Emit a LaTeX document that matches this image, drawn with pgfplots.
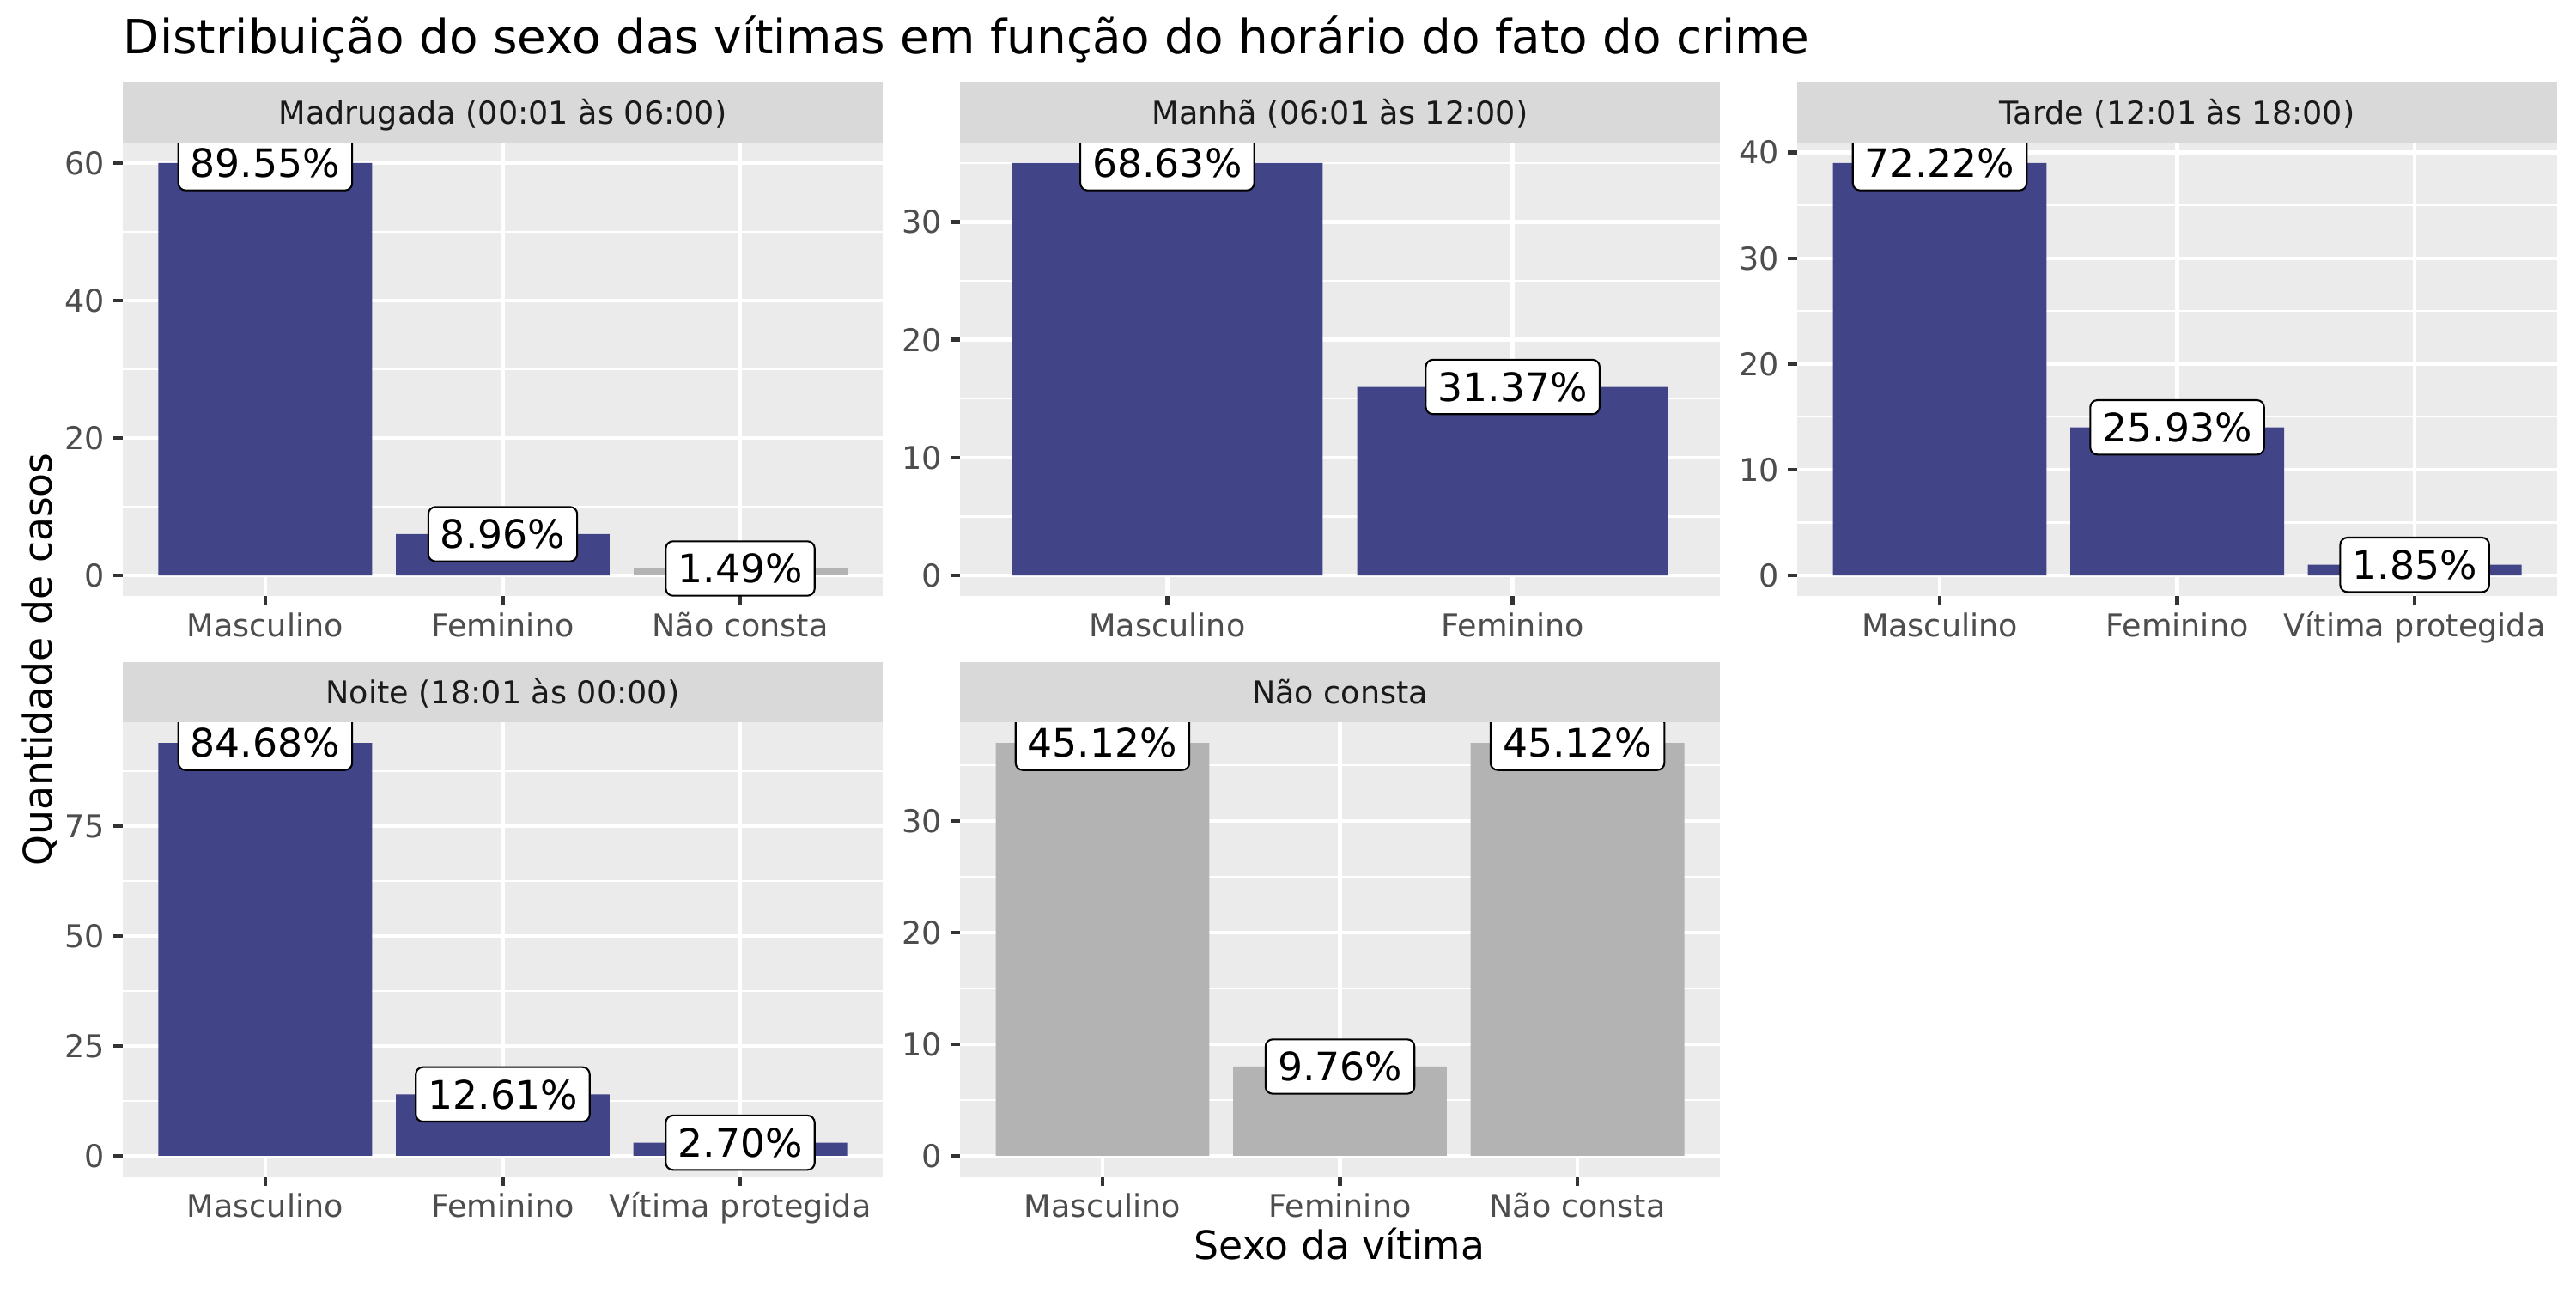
\documentclass[border=0pt]{standalone}
\usepackage{pgfplots}
\pgfplotsset{compat=1.18}
\usepackage{fontspec}
\setmainfont{DejaVu Sans}

\definecolor{navy}{HTML}{414487}
\definecolor{grayb}{HTML}{B3B3B3}
\definecolor{panelbg}{HTML}{EBEBEB}
\definecolor{stripbg}{HTML}{D9D9D9}
\definecolor{ticklab}{HTML}{4D4D4D}
\definecolor{tickc}{HTML}{333333}
\definecolor{striptext}{HTML}{1A1A1A}

\tikzset{
  lbl/.style={font=\fontsize{11}{13}\selectfont, text=black, fill=white, draw=black,
    line width=0.5bp, rounded corners=2bp, inner xsep=3.4bp, inner ysep=3.6bp,
    text height=8bp, text depth=0pt, anchor=center},
  strip/.style={font=\fontsize{8.8}{10}\selectfont, text=striptext, inner sep=0pt,
    text height=6.4bp, text depth=0pt, anchor=center}
}

\pgfplotsset{
  facet/.style={
    scale only axis, width=212.4bp, anchor=south west,
    axis background/.style={fill=panelbg},
    axis line style={draw=none},
    tick pos=left, tick align=outside,
    major tick length=2.64bp, minor tick length=0pt,
    tick style={draw=tickc, line width=1.07bp},
    xmajorgrids, ymajorgrids, yminorgrids,
    major grid style={draw=white, line width=1.07bp},
    minor grid style={draw=white, line width=0.53bp},
    enlargelimits=false,
    tick label style={font=\fontsize{8.8}{10}\selectfont, text=ticklab},
    /pgf/number format/assume math mode=true,
    yticklabel style={inner sep=0pt, xshift=-2.2bp},
    xticklabel style={inner sep=0pt, yshift=-2.2bp, text height=6.4bp, text depth=0pt},
  },
  navybar/.style={ybar, bar width=0.9, bar shift=0pt, fill=navy, draw=none},
  graybar/.style={ybar, bar width=0.9, bar shift=0pt, fill=grayb, draw=none},
  lblplot/.style={only marks, mark=*, mark size=0pt, mark options={draw=none, fill=none},
    nodes near coords, point meta=explicit symbolic,
    every node near coord/.append style={lbl}},
}

\begin{document}
\begin{tikzpicture}[x=1bp, y=1bp]
\useasboundingbox (0,0) rectangle (720,360);

% Madrugada
\begin{axis}[facet, at={(34.32bp,193.44bp)}, height=126.72bp,
  xmin=-0.6, xmax=2.6, xtick={0,1,2}, xticklabels={Masculino,Feminino,Não consta},
  ymin=-3, ymax=63, ytick={0,20,40,60}, minor ytick={10,30,50}]
\addplot[navybar] coordinates {(0,60) (1,6)};
\addplot[graybar] coordinates {(2,1)};
\addplot[lblplot] coordinates {(0,60) [89.55\%] (1,6) [8.96\%] (2,1) [1.49\%]};
\end{axis}

% Manha
\begin{axis}[facet, at={(268.32bp,193.44bp)}, height=126.72bp,
  xmin=-0.6, xmax=1.6, xtick={0,1}, xticklabels={Masculino,Feminino},
  ymin=-1.75, ymax=36.75, ytick={0,10,20,30}, minor ytick={5,15,25,35}]
\addplot[navybar] coordinates {(0,35) (1,16)};
\addplot[lblplot] coordinates {(0,35) [68.63\%] (1,16) [31.37\%]};
\end{axis}

% Tarde
\begin{axis}[facet, at={(502.32bp,193.44bp)}, height=126.72bp,
  xmin=-0.6, xmax=2.6, xtick={0,1,2}, xticklabels={Masculino,Feminino,Vítima protegida},
  ymin=-1.95, ymax=40.95, ytick={0,10,20,30,40}, minor ytick={5,15,25,35}]
\addplot[navybar] coordinates {(0,39) (1,14) (2,1)};
\addplot[lblplot] coordinates {(0,39) [72.22\%] (1,14) [25.93\%] (2,1) [1.85\%]};
\end{axis}

% Noite
\begin{axis}[facet, at={(34.32bp,31.2bp)}, height=126.96bp,
  xmin=-0.6, xmax=2.6, xtick={0,1,2}, xticklabels={Masculino,Feminino,Vítima protegida},
  ymin=-4.7, ymax=98.7, ytick={0,25,50,75}, minor ytick={12.5,37.5,62.5,87.5}]
\addplot[navybar] coordinates {(0,94) (1,14) (2,3)};
\addplot[lblplot] coordinates {(0,94) [84.68\%] (1,14) [12.61\%] (2,3) [2.70\%]};
\end{axis}

% Nao consta
\begin{axis}[facet, at={(268.32bp,31.2bp)}, height=126.96bp,
  xmin=-0.6, xmax=2.6, xtick={0,1,2}, xticklabels={Masculino,Feminino,Não consta},
  ymin=-1.85, ymax=38.85, ytick={0,10,20,30}, minor ytick={5,15,25,35}]
\addplot[graybar] coordinates {(0,37) (1,8) (2,37)};
\addplot[lblplot] coordinates {(0,37) [45.12\%] (1,8) [9.76\%] (2,37) [45.12\%]};
\end{axis}

% strips
\fill[stripbg] (34.32,320.16) rectangle ++(212.4,16.8);
\node[strip] at (140.52,328.56) {Madrugada (00:01 às 06:00)};
\fill[stripbg] (268.32,320.16) rectangle ++(212.4,16.8);
\node[strip] at (374.52,328.56) {Manhã (06:01 às 12:00)};
\fill[stripbg] (502.32,320.16) rectangle ++(212.4,16.8);
\node[strip] at (608.52,328.56) {Tarde (12:01 às 18:00)};
\fill[stripbg] (34.32,158.16) rectangle ++(212.4,16.8);
\node[strip] at (140.52,166.56) {Noite (18:01 às 00:00)};
\fill[stripbg] (268.32,158.16) rectangle ++(212.4,16.8);
\node[strip] at (374.52,166.56) {Não consta};

% titles
\node[anchor=base west, inner sep=0pt, font=\fontsize{13.2}{15}\selectfont]
  at (34.32,344.9) {Distribuição do sexo das vítimas em função do horário do fato do crime};
\node[rotate=90, anchor=base, inner sep=0pt, font=\fontsize{11}{13}\selectfont]
  at (14.4,175.7) {Quantidade de casos};
\node[anchor=base, inner sep=0pt, font=\fontsize{11}{13}\selectfont]
  at (374.4,8.16) {Sexo da vítima};
\end{tikzpicture}
\end{document}
